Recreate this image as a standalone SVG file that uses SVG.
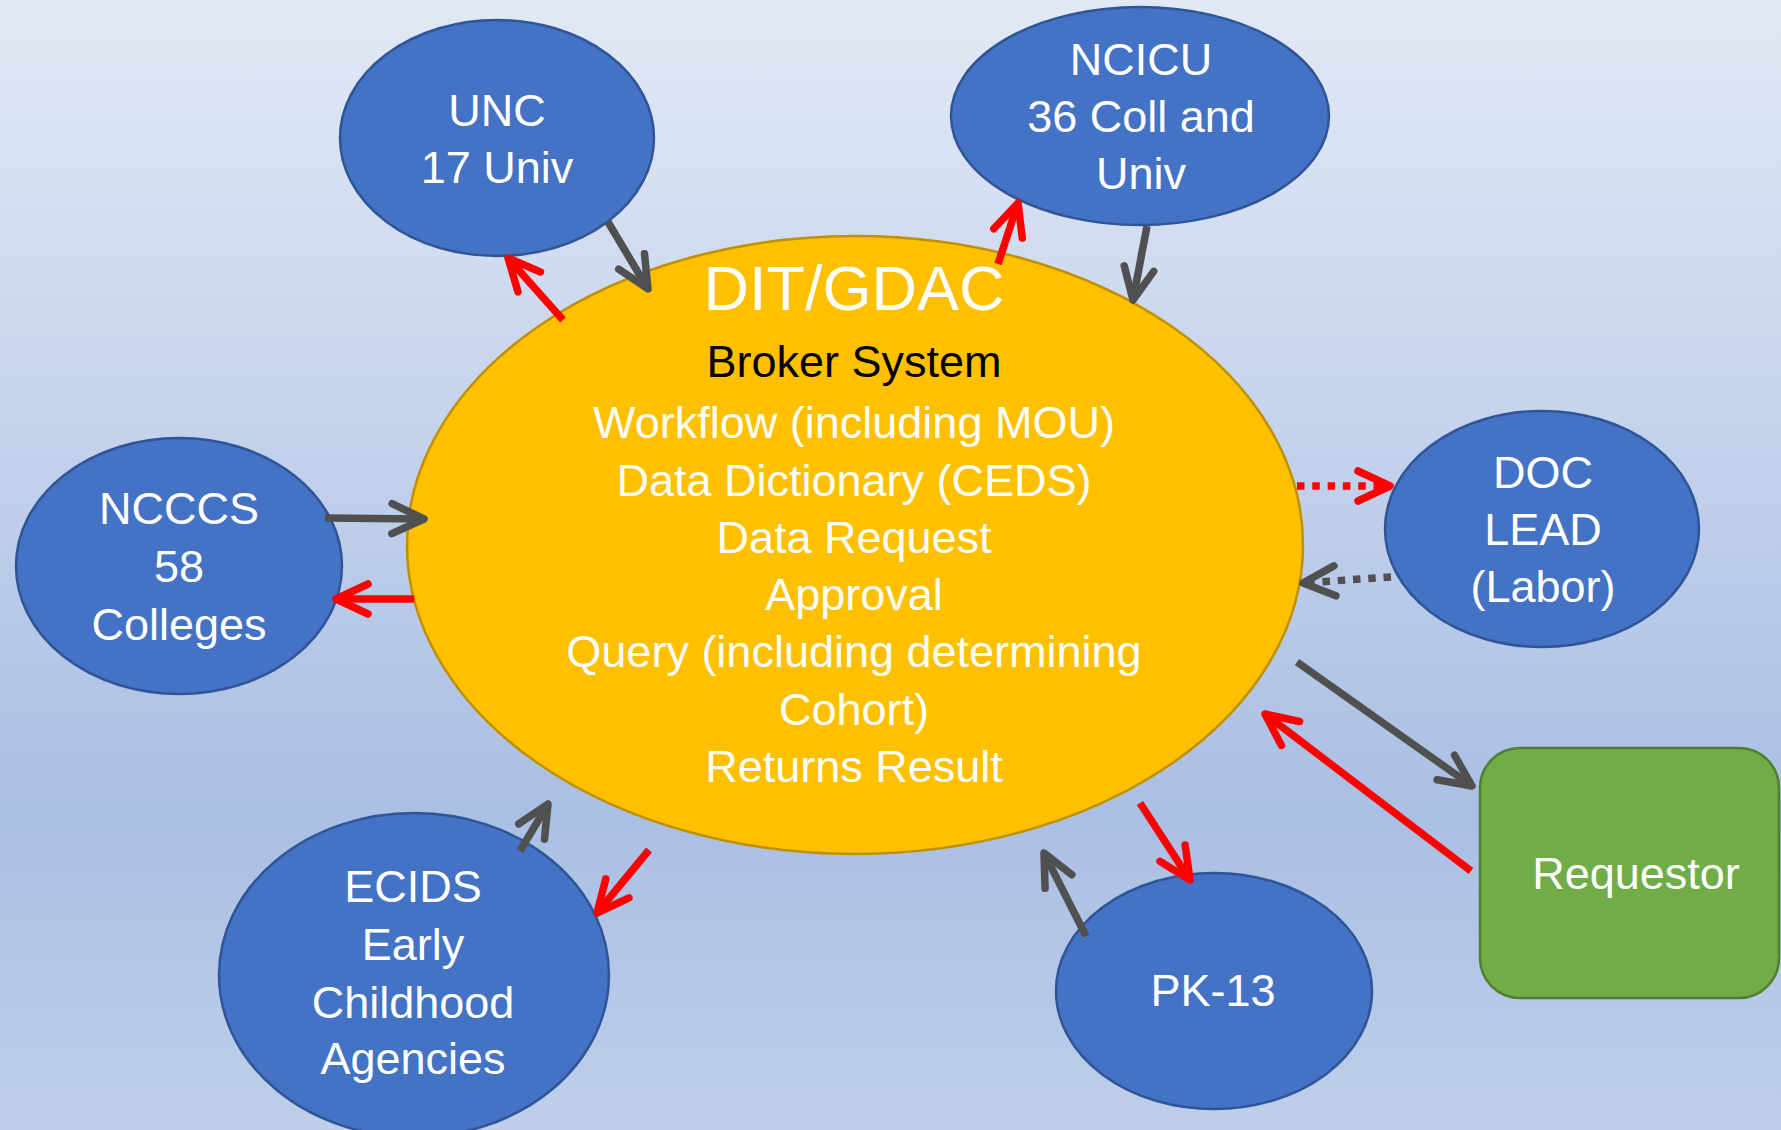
<svg xmlns="http://www.w3.org/2000/svg" width="1781" height="1130" viewBox="0 0 1781 1130">
<defs>
<linearGradient id="bg" x1="0" y1="0" x2="0" y2="1">
<stop offset="0" stop-color="#e2e9f5"/>
<stop offset="0.72" stop-color="#aabfe4"/>
<stop offset="1" stop-color="#bfcfea"/>
</linearGradient>
<marker id="ag" markerUnits="userSpaceOnUse" markerWidth="80" markerHeight="80" refX="0" refY="0" orient="auto" overflow="visible">
<path d="M-32,-15 L0,0 L-32,15" fill="none" stroke="#505050" stroke-width="7.5" stroke-linecap="round" stroke-linejoin="round" stroke-dasharray="none"/>
</marker>
<marker id="ar" markerUnits="userSpaceOnUse" markerWidth="80" markerHeight="80" refX="0" refY="0" orient="auto" overflow="visible">
<path d="M-32,-15 L0,0 L-32,15" fill="none" stroke="#ff0000" stroke-width="7.5" stroke-linecap="round" stroke-linejoin="round" stroke-dasharray="none"/>
</marker>
</defs>
<style>
.blue{fill:#4472c4;stroke:#2f5597;stroke-width:2.5}
.hub{fill:#ffc000;stroke:#bf9000;stroke-width:2.5}
.green{fill:#70ad47;stroke:#507e32;stroke-width:2.5}
text{font-family:"Liberation Sans",Arial,sans-serif;font-size:45px;fill:#ffffff;text-anchor:middle}
.blk{fill:#000000}
.big{font-size:63px}
.g{stroke:#505050;stroke-width:7.5;fill:none;marker-end:url(#ag)}
.r{stroke:#ff0000;stroke-width:7.5;fill:none;marker-end:url(#ar)}
.dot{stroke-dasharray:7.5 7.8}
</style>
<rect x="0" y="0" width="1781" height="1130" fill="url(#bg)"/>

<g id="dit-gdac">
<ellipse class="hub" cx="855" cy="545" rx="448" ry="309"/>
<text class="big" x="854" y="310">DIT/GDAC</text>
<text class="blk" x="854" y="377">Broker System</text>
<text x="854" y="438">Workflow (including MOU)</text>
<text x="854" y="496">Data Dictionary (CEDS)</text>
<text x="854" y="553">Data Request</text>
<text x="854" y="610">Approval</text>
<text x="854" y="667">Query (including determining</text>
<text x="854" y="725">Cohort)</text>
<text x="854" y="782">Returns Result</text>
</g>

<g id="unc">
<ellipse class="blue" cx="497" cy="138" rx="157" ry="118"/>
<text x="497" y="126">UNC</text>
<text x="497" y="183">17 Univ</text>
</g>

<g id="ncicu">
<ellipse class="blue" cx="1140" cy="116" rx="189" ry="109"/>
<text x="1141" y="75">NCICU</text>
<text x="1141" y="132">36 Coll and</text>
<text x="1141" y="189">Univ</text>
</g>

<g id="doc">
<ellipse class="blue" cx="1542" cy="529" rx="157" ry="118"/>
<text x="1543" y="488">DOC</text>
<text x="1543" y="545">LEAD</text>
<text x="1543" y="602">(Labor)</text>
</g>

<g id="ncccs">
<ellipse class="blue" cx="179" cy="566" rx="163" ry="128"/>
<text x="179" y="524">NCCCS</text>
<text x="179" y="582">58</text>
<text x="179" y="640">Colleges</text>
</g>

<g id="ecids">
<ellipse class="blue" cx="414" cy="975" rx="195" ry="162"/>
<text x="413" y="902">ECIDS</text>
<text x="413" y="960">Early</text>
<text x="413" y="1018">Childhood</text>
<text x="413" y="1074">Agencies</text>
</g>

<g id="pk13">
<ellipse class="blue" cx="1214" cy="991" rx="158" ry="118"/>
<text x="1213" y="1006">PK-13</text>
</g>

<g id="requestor">
<rect class="green" x="1480" y="748" width="299" height="250" rx="40" ry="40"/>
<text x="1636" y="889">Requestor</text>
</g>

<g id="connectors">
<line class="g" x1="608" y1="222" x2="648" y2="289"/>
<line class="r" x1="563" y1="320" x2="508" y2="258"/>
<line class="g" x1="325" y1="518" x2="424" y2="519"/>
<line class="r" x1="414" y1="599" x2="336" y2="599"/>
<line class="g" x1="1147" y1="226" x2="1133" y2="300"/>
<line class="r" x1="998" y1="264" x2="1018" y2="203"/>
<line class="r dot" x1="1297" y1="486" x2="1390" y2="486"/>
<line class="g dot" x1="1391" y1="577" x2="1303" y2="583"/>
<line class="g" x1="1297" y1="662" x2="1472" y2="786"/>
<line class="r" x1="1471" y1="871" x2="1265" y2="714"/>
<line class="r" x1="1140" y1="803" x2="1190" y2="880"/>
<line class="g" x1="1086" y1="936" x2="1044" y2="853"/>
<line class="g" x1="520" y1="851" x2="548" y2="804"/>
<line class="r" x1="649" y1="850" x2="597" y2="913"/>
</g>
</svg>
